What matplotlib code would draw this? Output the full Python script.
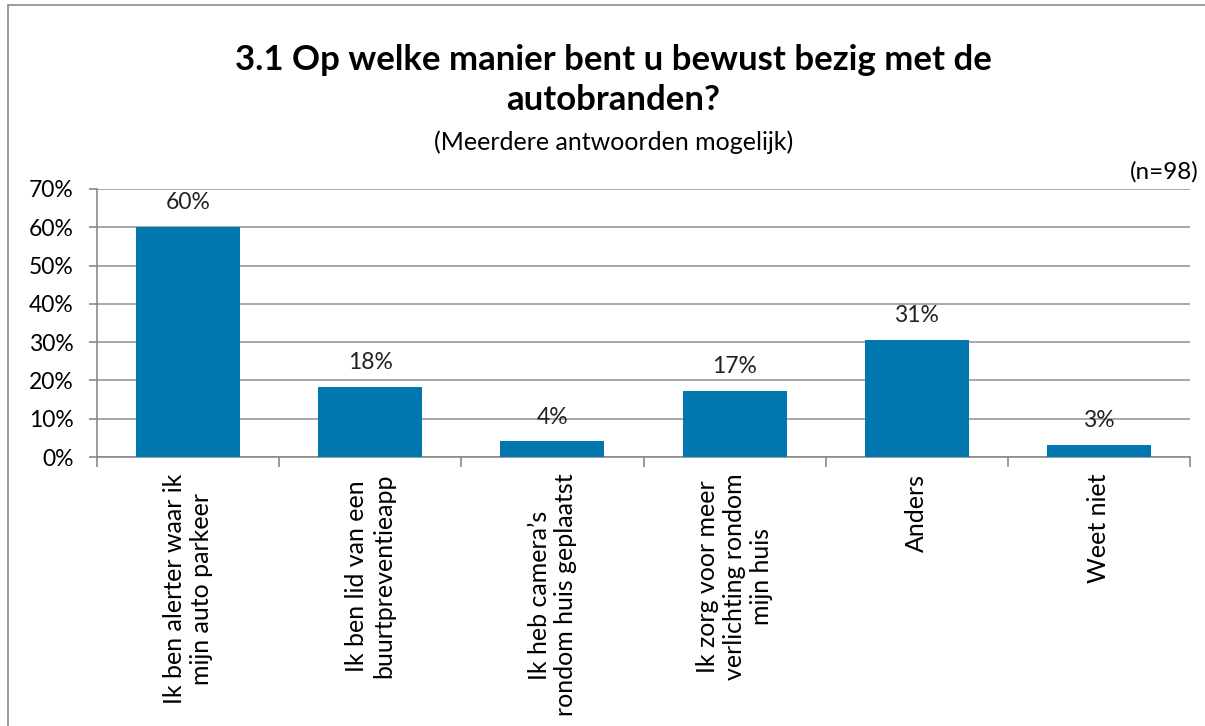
import matplotlib.pyplot as plt
from matplotlib.patches import Rectangle
from matplotlib.ticker import MultipleLocator, FuncFormatter, FixedLocator

plt.rcParams['font.family'] = ['Lato', 'DejaVu Sans']

categories = ["Ik ben alerter waar ik\nmijn auto parkeer",
              "Ik ben lid van een\nbuurtpreventieapp",
              "Ik heb camera\u2019s\nrondom huis geplaatst",
              "Ik zorg voor meer\nverlichting rondom\nmijn huis",
              "Anders",
              "Weet niet"]
values = [60.2, 18.4, 4.1, 17.3, 30.6, 3.1]
labels = ["60%", "18%", "4%", "17%", "31%", "3%"]

fig = plt.figure(figsize=(12.05, 7.26), dpi=100)
ax = fig.add_axes([97/1205, 1-457/726, (1190-97)/1205, (457-189)/726])

x = list(range(len(categories)))
ax.bar(x, values, width=0.57, color='#0077AE', zorder=3)
for xi, v, lab in zip(x, values, labels):
    ax.text(xi, v + 3.6, lab, ha='center', va='bottom', fontsize=16.5, color='#222222')

ax.set_xlim(-0.5, len(categories) - 0.5)
ax.set_ylim(0, 70)
ax.yaxis.set_major_locator(MultipleLocator(10))
ax.yaxis.set_major_formatter(FuncFormatter(lambda v, p: f"{v:.0f}%"))
ax.grid(axis='y', color='#9A9A9A', linewidth=1.2, zorder=0)

ax.set_xticks(x)
ax.set_xticklabels(categories, rotation=90, ha='center', va='top',
                   multialignment='center', fontsize=18)
ax.xaxis.set_minor_locator(FixedLocator([i - 0.5 for i in range(len(categories) + 1)]))
ax.tick_params(axis='x', which='major', length=0, pad=12)
ax.tick_params(axis='x', which='minor', length=7, color='#8A8A8A', width=1.2)
ax.tick_params(axis='y', length=6, color='#8A8A8A', width=1.2, labelsize=16.5, pad=11)

for s in ['top', 'right']:
    ax.spines[s].set_visible(False)
for s in ['left', 'bottom']:
    ax.spines[s].set_color('#8A8A8A')
    ax.spines[s].set_linewidth(1.2)

fig.text(0.509, 1-60/726, "3.1 Op welke manier bent u bewust bezig met de", ha='center', va='center',
         fontsize=25, fontweight='bold')
fig.text(0.509, 1-100/726, "autobranden?", ha='center', va='center',
         fontsize=25, fontweight='bold')
fig.text(0.509, 1-142/726, "(Meerdere antwoorden mogelijk)", ha='center', va='center', fontsize=18)
fig.text(1-6/1205, 1-172/726, "(n=98)", ha='right', va='center', fontsize=17.5)

fig.patches.append(Rectangle((8/1205, -0.05), 1.2, 1.05 - 5/726, transform=fig.transFigure,
                             fill=False, edgecolor='#8A8A8A', linewidth=1.2))

fig.savefig('out.png', dpi=100)
